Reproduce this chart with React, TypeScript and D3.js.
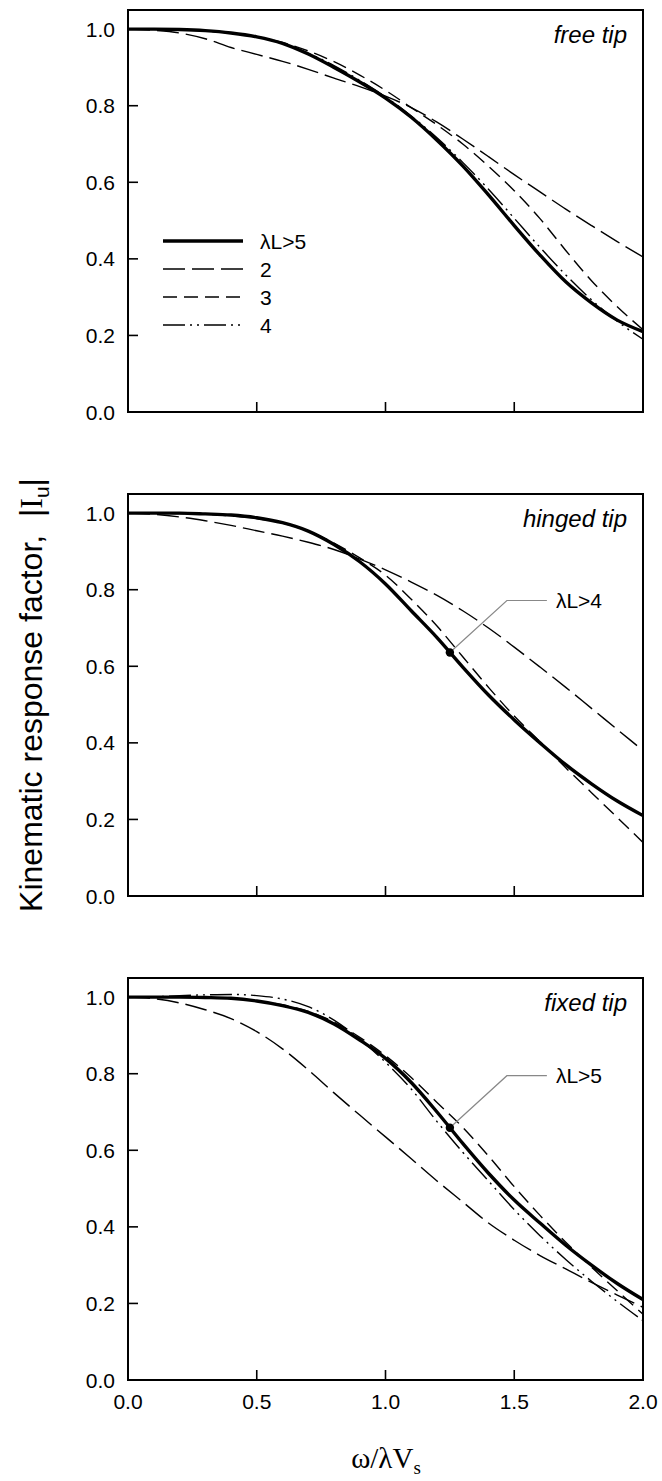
import React from "react";
import * as d3 from "d3";

// ---------- data ----------
const X = [0, 0.1, 0.2, 0.3, 0.4, 0.5, 0.6, 0.7, 0.8, 0.9, 1.0, 1.1, 1.2, 1.3, 1.4, 1.5, 1.6, 1.7, 1.8, 1.9, 2.0];

const freeL5 = [1.0, 1.0, 0.999, 0.996, 0.99, 0.98, 0.963, 0.935, 0.9, 0.862, 0.82, 0.77, 0.71, 0.643, 0.567, 0.487, 0.41, 0.34, 0.285, 0.24, 0.21];
const freeL2 = [1.0, 0.997, 0.99, 0.975, 0.952, 0.934, 0.916, 0.895, 0.872, 0.85, 0.825, 0.795, 0.757, 0.713, 0.667, 0.62, 0.575, 0.53, 0.487, 0.445, 0.405];
const freeL3 = [1.0, 1.0, 0.998, 0.995, 0.99, 0.98, 0.965, 0.943, 0.915, 0.88, 0.84, 0.795, 0.75, 0.70, 0.642, 0.578, 0.505, 0.422, 0.343, 0.275, 0.215];
const freeL4 = [1.0, 1.0, 0.999, 0.996, 0.99, 0.98, 0.962, 0.937, 0.905, 0.866, 0.823, 0.773, 0.716, 0.652, 0.582, 0.506, 0.43, 0.358, 0.293, 0.237, 0.19];

const hingedL4 = [1.0, 1.0, 1.0, 0.998, 0.995, 0.988, 0.975, 0.953, 0.918, 0.873, 0.815, 0.745, 0.675, 0.598, 0.525, 0.46, 0.40, 0.343, 0.293, 0.248, 0.21];
const hingedL2 = [1.0, 0.997, 0.99, 0.98, 0.968, 0.954, 0.94, 0.924, 0.905, 0.88, 0.852, 0.82, 0.785, 0.745, 0.70, 0.65, 0.598, 0.545, 0.49, 0.435, 0.38];
const hingedL3 = [1.0, 1.0, 0.999, 0.997, 0.993, 0.986, 0.974, 0.953, 0.922, 0.883, 0.838, 0.775, 0.705, 0.625, 0.545, 0.47, 0.403, 0.335, 0.27, 0.205, 0.14];

const fixedL5 = [1.0, 1.0, 1.0, 0.999, 0.997, 0.99, 0.978, 0.96, 0.93, 0.888, 0.84, 0.777, 0.70, 0.618, 0.54, 0.47, 0.41, 0.352, 0.30, 0.252, 0.21];
const fixedL2 = [1.0, 0.996, 0.985, 0.967, 0.944, 0.91, 0.865, 0.81, 0.75, 0.692, 0.635, 0.578, 0.52, 0.465, 0.41, 0.365, 0.325, 0.29, 0.255, 0.222, 0.19];
const fixedL3 = [1.0, 1.0, 1.0, 0.999, 0.997, 0.99, 0.98, 0.963, 0.935, 0.895, 0.847, 0.79, 0.725, 0.66, 0.585, 0.505, 0.43, 0.36, 0.295, 0.233, 0.172];
const fixedL4 = [1.0, 1.001, 1.004, 1.006, 1.007, 1.004, 0.995, 0.975, 0.94, 0.89, 0.83, 0.76, 0.675, 0.595, 0.52, 0.445, 0.377, 0.315, 0.258, 0.205, 0.155];

const xTicks = [0, 0.5, 1.0, 1.5, 2.0];
const yTicks = [0, 0.2, 0.4, 0.6, 0.8, 1.0];
const legendLabels = ["\u03bbL>5", "2", "3", "4"];
const panelTitles = ["free tip", "hinged tip", "fixed tip"];

// marked points with labels
const hingedMarker = { x: 1.25, y: 0.636, label: "\u03bbL>4" };
const fixedMarker = { x: 1.25, y: 0.659, label: "\u03bbL>5" };

// ---------- styles ----------
type Style = { width: number; dash?: string };
const styles: Record<string, Style> = {
  solid: { width: 3.4 },
  L2: { width: 1.4, dash: "22,7" },
  L3: { width: 1.4, dash: "14,7" },
  L4: { width: 1.4, dash: "22,5,2,5,2,5" },
};

type Series = { values: number[]; style: string };
const panels: { title: string; series: Series[]; marker?: typeof hingedMarker }[] = [
  {
    title: panelTitles[0],
    series: [
      { values: freeL2, style: "L2" },
      { values: freeL3, style: "L3" },
      { values: freeL4, style: "L4" },
      { values: freeL5, style: "solid" },
    ],
  },
  {
    title: panelTitles[1],
    series: [
      { values: hingedL2, style: "L2" },
      { values: hingedL3, style: "L3" },
      { values: hingedL4, style: "solid" },
    ],
    marker: hingedMarker,
  },
  {
    title: panelTitles[2],
    series: [
      { values: fixedL2, style: "L2" },
      { values: fixedL3, style: "L3" },
      { values: fixedL4, style: "L4" },
      { values: fixedL5, style: "solid" },
    ],
    marker: fixedMarker,
  },
];

const W = 662;
const H = 1481;
const left = 128;
const right = 643;
const panelTops = [10, 494, 978];
const panelH = 402;
const sans = "'Liberation Sans', Arial, sans-serif";
const serif = "'Liberation Serif', 'Times New Roman', serif";

const x = d3.scaleLinear().domain([0, 2]).range([left, right]);

function Panel({ idx }: { idx: number }) {
  const p = panels[idx];
  const top = panelTops[idx];
  const y = d3.scaleLinear().domain([0, 1.05]).range([top + panelH, top]);
  const line = d3
    .line<number>()
    .x((_, i) => x(X[i]))
    .y((v) => y(v))
    .curve(d3.curveMonotoneX);
  const clipId = `clip${idx}`;
  const isBottom = idx === panels.length - 1;
  return (
    <g>
      <defs>
        <clipPath id={clipId}>
          <rect x={left} y={top} width={right - left} height={panelH} />
        </clipPath>
      </defs>
      <g clipPath={`url(#${clipId})`}>
        {p.series.map((s, i) => (
          <path
            key={i}
            d={line(s.values) || ""}
            fill="none"
            stroke="#000"
            strokeWidth={styles[s.style].width}
            strokeDasharray={styles[s.style].dash}
            strokeLinejoin="round"
          />
        ))}
      </g>
      <rect x={left} y={top} width={right - left} height={panelH} fill="none" stroke="#000" strokeWidth={2} />
      {yTicks.map((t) => (
        <g key={"y" + t}>
          <line x1={left} x2={left + 10} y1={y(t)} y2={y(t)} stroke="#000" strokeWidth={1.6} />
          <text x={left - 13} y={y(t)} dy="0.36em" textAnchor="end" fontFamily={sans} fontSize={21} fill="#000">
            {t.toFixed(1)}
          </text>
        </g>
      ))}
      {xTicks.map((t) => (
        <g key={"x" + t}>
          <line x1={x(t)} x2={x(t)} y1={top + panelH} y2={top + panelH - 10} stroke="#000" strokeWidth={1.6} />
          {isBottom && (
            <text x={x(t)} y={top + panelH + 29} textAnchor="middle" fontFamily={sans} fontSize={21} fill="#000">
              {t.toFixed(1)}
            </text>
          )}
        </g>
      ))}
      <text x={right - 16} y={top + 33} textAnchor="end" fontFamily={sans} fontStyle="italic" fontSize={24} fill="#000">
        {p.title}
      </text>
      {p.marker && (
        <g>
          <polyline
            points={`${x(p.marker.x)},${y(p.marker.y)} ${x(p.marker.x) + 57},${y(p.marker.y) - 52} ${x(p.marker.x) + 97},${y(p.marker.y) - 52}`}
            fill="none"
            stroke="#888"
            strokeWidth={1.2}
          />
          <circle cx={x(p.marker.x)} cy={y(p.marker.y)} r={4.2} fill="#000" />
          <text x={x(p.marker.x) + 106} y={y(p.marker.y) - 52} dy="0.36em" fontFamily={sans} fontSize={21} fill="#000">
            {p.marker.label}
          </text>
        </g>
      )}
    </g>
  );
}

function Legend() {
  const order = ["solid", "L2", "L3", "L4"];
  return (
    <g>
      {order.map((k, i) => {
        const yy = 241 + i * 28;
        return (
          <g key={k}>
            <line
              x1={163}
              x2={243}
              y1={yy}
              y2={yy}
              stroke="#000"
              strokeWidth={styles[k].width}
              strokeDasharray={styles[k].dash}
            />
            <text x={260} y={yy} dy="0.36em" fontFamily={sans} fontSize={21} fill="#000">
              {legendLabels[i]}
            </text>
          </g>
        );
      })}
    </g>
  );
}

export default function App() {
  return (
    <div style={{ position: "absolute", left: 0, top: 0 }}>
      <svg width={W} height={H} viewBox={`0 0 ${W} ${H}`} style={{ display: "block", background: "#fff" }}>
        {panels.map((_, i) => (
          <Panel key={i} idx={i} />
        ))}
        <Legend />
        <text
          transform={`translate(42, 695) rotate(-90)`}
          textAnchor="middle"
          fontFamily={sans}
          fontSize={32}
          fill="#000"
        >
          Kinematic response factor,{"\u00a0\u00a0"}|<tspan fontFamily={serif}>I</tspan>
          <tspan fontSize={21} dy={7}>u</tspan>
          <tspan dy={-7}>|</tspan>
        </text>
        <text x={386} y={1468} textAnchor="middle" fontFamily={serif} fontSize={29} fill="#000">
          {"\u03c9/\u03bbV"}
          <tspan fontSize={19} dy={6}>s</tspan>
        </text>
      </svg>
    </div>
  );
}
